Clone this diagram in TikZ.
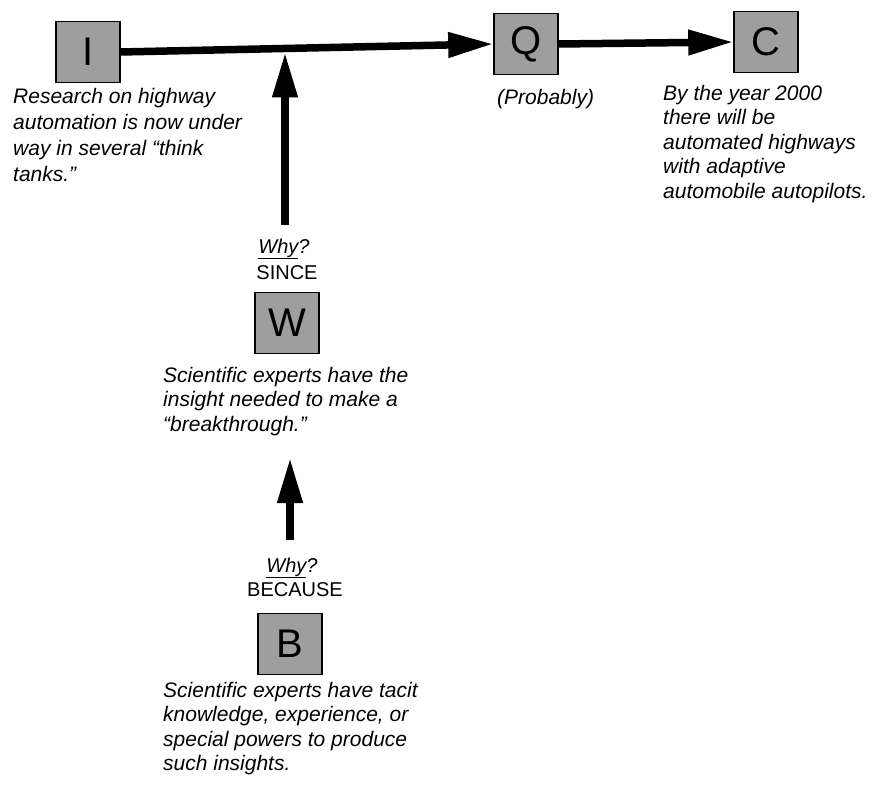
\documentclass[tikz,border=0pt]{standalone}
\usepackage{fontspec}
\setmainfont{Liberation Sans}
\usetikzlibrary{arrows.meta,calc}
\begin{document}
\begin{tikzpicture}[x=1pt,y=-1pt,
  letterbox/.style={draw=black, line width=1.6pt, fill=black!38,
    minimum width=64pt, minimum height=61pt, inner sep=0pt,
    font=\fontsize{40}{40}\selectfont},
  caption/.style={inner sep=0pt, align=left, anchor=north west,
    font=\fontsize{21}{24.5}\selectfont\itshape},
  tag/.style={inner sep=0pt, anchor=base, font=\fontsize{20}{24}\selectfont},
  bigarrow/.style={line width=7.5pt, -{Triangle[length=45pt,width=24pt]}}
]
\useasboundingbox (0,0) rectangle (877,786);

% letter boxes
\node[letterbox] (I) at (88,52) {I};
\node[letterbox] (Q) at (526,44) {Q};
\node[letterbox] (C) at (766,42) {C};
\node[letterbox] (W) at (287,323) {W};
\node[letterbox] (B) at (290,644) {B};

% captions
\node[caption, font=\fontsize{21}{26}\selectfont\itshape] (Itext) at (13,88)
  {Research on highway\\automation is now under\\way in several “think\\tanks.”};
\node[caption] (Qtext) at (497,89) {(Probably)};
\node[caption] (Ctext) at (663,85) {By the year 2000\\there will be\\automated highways\\with adaptive\\automobile autopilots.};
\node[caption] (Wtext) at (163,367) {Scientific experts have the\\insight needed to make a\\“breakthrough.”};
\node[caption] (Btext) at (163,682) {Scientific experts have tacit\\knowledge, experience, or\\special powers to produce\\such insights.};

% qualifier tags
\node[tag] (whyW) at (284,253) {\itshape\underline{Why}?};
\node[tag] (since) at (287,279) {SINCE};
\node[tag] (whyB) at (292,572) {\itshape\underline{Why}?};
\node[tag] (because) at (295,596) {BECAUSE};

% arrows
\coordinate (Wfoot) at (285,225);
\coordinate (Ijoin) at (285,52.5);
\coordinate (Bfoot) at (290,540);
\coordinate (Wtip) at (290,458);
\draw[bigarrow] (I.east) -- (Q.west);
\draw[bigarrow] (Q.east) -- (C.west);
\draw[bigarrow] (Wfoot) -- (Ijoin);
\draw[bigarrow] (Bfoot) -- (Wtip);
\end{tikzpicture}
\end{document}
